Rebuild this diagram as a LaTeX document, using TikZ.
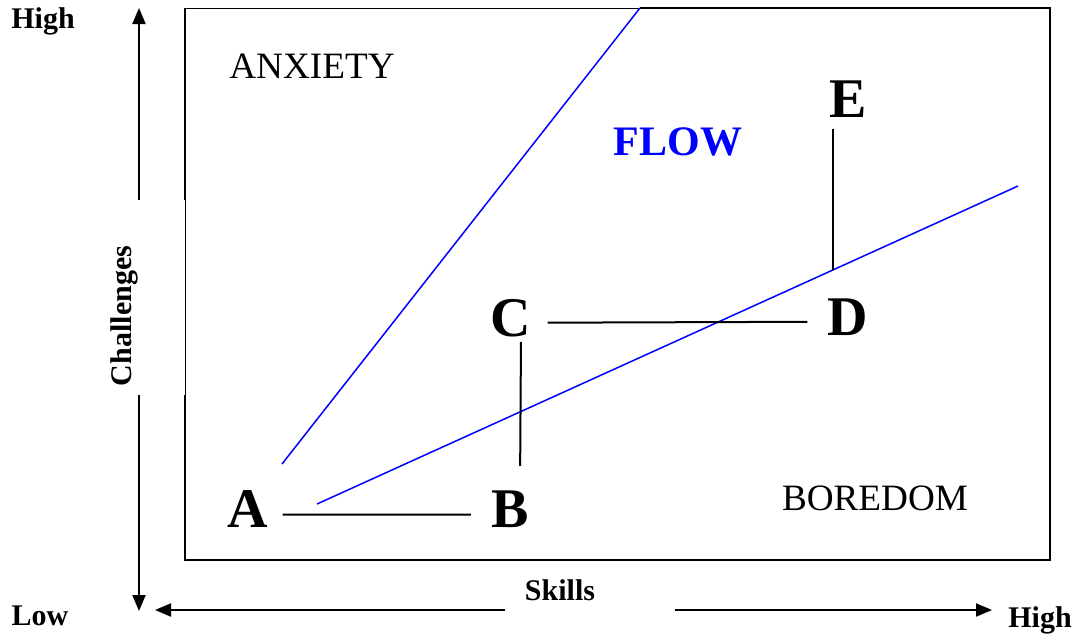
\documentclass[tikz,border=0pt]{standalone}
\usepackage{fontspec}
\setmainfont{Liberation Serif}
\usetikzlibrary{arrows.meta, positioning, calc}
\definecolor{flowblue}{RGB}{0, 0, 255}

\begin{document}
\begin{tikzpicture}[
    x=0.5pt, y=-0.5pt,
    frame/.style={draw=black, line width=1pt},
    thinframe/.style={draw=black, line width=0.45pt},
    axis/.style={draw=black, line width=1pt, -{Triangle[length=8pt, width=6.5pt]}},
    channel/.style={draw=flowblue, line width=0.75pt},
    link/.style={draw=black, line width=1pt},
    point/.style={font=\fontsize{28}{30}\selectfont\bfseries, inner sep=0pt, anchor=base},
    zone/.style={font=\fontsize{18.6}{22}\selectfont, inner sep=0pt, anchor=base},
    axislabel/.style={font=\fontsize{15}{17}\selectfont\bfseries, inner sep=0pt, anchor=base}
]
\useasboundingbox (0,0) rectangle (1081,633);

% frame of the chart
\coordinate (tl) at (185,8);
\coordinate (tr) at (1050,8);
\coordinate (br) at (1050,560);
\coordinate (bl) at (185,560);
\coordinate (lhi) at (185,200);
\coordinate (llo) at (185,395);
\coordinate (tmid) at (640,8);
\draw[frame] (tmid) -- (tr) -- (br) -- (bl) -- (llo);
\draw[frame] (lhi) -- (tl);
\draw[thinframe] (tl) -- (tmid);
\draw[thinframe] (lhi) -- (llo);

% axes
\coordinate (ytop) at (139,8);
\coordinate (yhi) at (139,200);
\coordinate (ylo) at (139,395);
\coordinate (ybot) at (139,611);
\coordinate (xleft) at (155,610);
\coordinate (xlo) at (505,610);
\coordinate (xhi) at (675,610);
\coordinate (xright) at (992,610);
\draw[axis] (yhi) -- (ytop);
\draw[axis] (ylo) -- (ybot);
\draw[axis] (xlo) -- (xleft);
\draw[axis] (xhi) -- (xright);

\node[axislabel, rotate=90, anchor=center] (challenges) at (124,316) {Challenges};
\node[axislabel] (skills) at (560,600) {Skills};
\node[axislabel] (highy) at (43,28) {High};
\node[axislabel] (low) at (40,625) {Low};
\node[axislabel] (highx) at (1040,627) {High};

% regions
\node[zone] (anxiety) at (312,78) {ANXIETY};
\node[zone] (boredom) at (875,510) {BOREDOM};
\node[zone, font=\fontsize{21}{24}\selectfont\bfseries, text=flowblue] (flow) at (678,155) {FLOW};

% flow channel
\coordinate (c1s) at (282,464);
\coordinate (c1e) at (640,8);
\coordinate (c2s) at (317,504);
\coordinate (c2e) at (1018,186);
\draw[channel] (c1s) -- (c1e);
\draw[channel] (c2s) -- (c2e);

% path of points
\node[point] (A) at (248,527) {A};
\node[point] (B) at (510,527) {B};
\node[point] (C) at (511,336) {C};
\node[point] (D) at (848,335) {D};
\node[point] (E) at (848,117) {E};

\draw[link, shorten <=7pt, shorten >=10pt] ($(A.east)+(0,6)$) -- ($(B.west)+(0,6)$);
\draw[link, shorten <=12pt, shorten >=2.5pt] ($(B.north)+(10,0)$) -- ($(C.south)+(10,0)$);
\draw[link, shorten <=8pt, shorten >=10pt] ($(C.east)+(0,5)$) -- ($(D.west)+(0,5)$);
\draw[link, shorten <=14pt, shorten >=6pt] ($(D.north)+(-15,0)$) -- ($(E.south)+(-15,0)$);

\end{tikzpicture}
\end{document}
